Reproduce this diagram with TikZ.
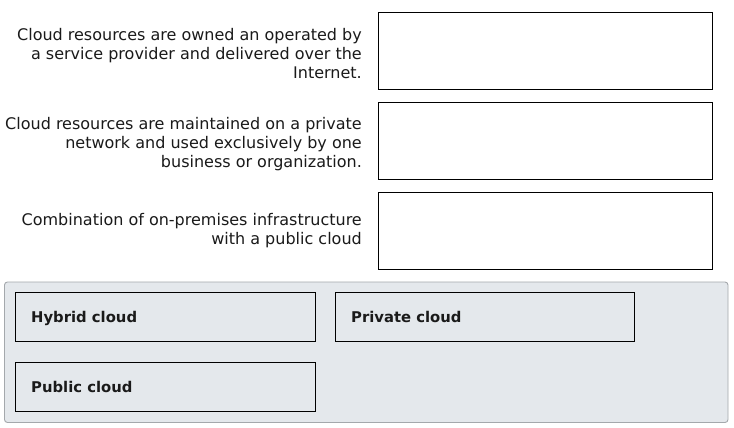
\documentclass[tikz,border=0pt]{standalone}
\usepackage{fontspec}
\setmainfont{DejaVu Sans}
\definecolor{panelfill}{HTML}{E4E8EC}
\definecolor{panelline}{HTML}{A4A8AC}
\definecolor{txt}{HTML}{1A1A1A}
\begin{document}
\begin{tikzpicture}[x=1pt,y=-1pt,
  prompt/.style={anchor=east,align=right,inner sep=0pt,text=txt,font=\fontsize{16}{19}\selectfont},
  target/.style={draw=black,line width=0.9pt,fill=white},
  choice/.style={draw=black,line width=0.9pt},
  choicelabel/.style={anchor=base west,inner sep=0pt,text=txt,font=\fontsize{14.8}{17}\bfseries\selectfont}]
\useasboundingbox[fill=white] (0,0) rectangle (734,428);
% prompts
\node[prompt] (p1) at (362,54) {Cloud resources are owned an operated by\\a service provider and delivered over the\\Internet.};
\node[prompt] (p2) at (362,144.5) {Cloud resources are maintained on a private\\network and used exclusively by one\\business or organization.};
\node[prompt] (p3) at (362,230.5) {Combination of on-premises infrastructure\\with a public cloud};
% targets
\draw[target] (378,12) rectangle (712,89) coordinate (t1);
\draw[target] (378,102) rectangle (712,179) coordinate (t2);
\draw[target] (378,192) rectangle (712,269) coordinate (t3);
% panel
\draw[draw=panelline,fill=panelfill,rounded corners=3pt,line width=0.9pt] (4.5,282) rectangle (728,422.5) coordinate (panel);
% choices
\draw[choice] (15,292) rectangle (315,341) coordinate (c1);
\draw[choice] (335,292) rectangle (634,341) coordinate (c2);
\draw[choice] (15,362) rectangle (315,411) coordinate (c3);
\node[choicelabel] (l1) at (31,322) {Hybrid cloud};
\node[choicelabel] (l2) at (351,322) {Private cloud};
\node[choicelabel] (l3) at (31,392) {Public cloud};
\end{tikzpicture}
\end{document}
